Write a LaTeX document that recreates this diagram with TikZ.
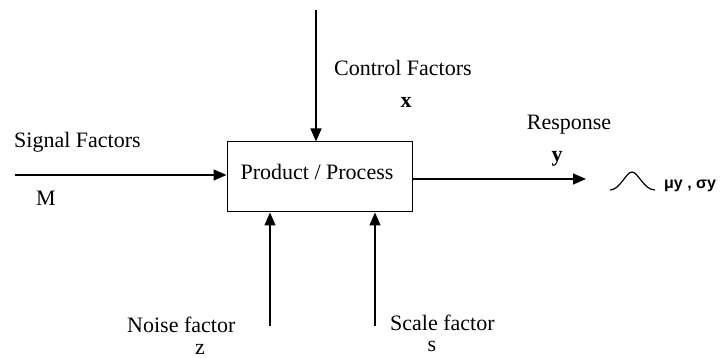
\documentclass[tikz,border=0pt]{standalone}
\usepackage{fontspec}
\setmainfont{Liberation Serif}
\newfontfamily\symfont{Liberation Sans}
\usetikzlibrary{arrows.meta}

\begin{document}
\begin{tikzpicture}[x=1pt,y=-1pt,
  arr/.style={line width=1.4pt,-{Triangle[length=13pt,width=11pt]}},
  lbl/.style={inner sep=0pt,font=\fontsize{22}{24}\selectfont}]
\useasboundingbox (0,0) rectangle (724,358);
% block
\node[draw,line width=1pt,minimum width=185pt,minimum height=70pt,inner sep=0pt] (proc) at (319.5,177) {};
\node[lbl] (ptext) at (317,172) {Product / Process};
% arrow ends
\coordinate (ctrl) at (316,10);
\coordinate (sig) at (15,175);
\coordinate (resp) at (586,179);
\coordinate (noise) at (270,326);
\coordinate (scale) at (375,326);
% arrows
\draw[arr] (ctrl) -- (ctrl |- proc.north);
\draw[arr] (sig) -- (sig -| proc.west);
\draw[arr] (resp -| proc.east) -- (resp);
\draw[arr] (noise) -- (noise |- proc.south);
\draw[arr] (scale) -- (scale |- proc.south);
% labels
\node[lbl,anchor=west] (ctext) at (334,68) {Control Factors};
\node[lbl] (cx) at (406,102) {\textbf{x}};
\node[lbl,anchor=west] (stext) at (14,142) {Signal Factors};
\node[lbl] (sm) at (46,198) {M};
\node[lbl] (rtext) at (569,125) {Response};
\node[lbl] (ry) at (557,159) {\textbf{y}};
\node[lbl,anchor=west] (ntext) at (127,325) {Noise factor};
\node[lbl] (nz) at (200,349) {z};
\node[lbl,anchor=west] (sctext) at (390,323) {Scale factor};
\node[lbl] (ss) at (432,346) {s};
% distribution
\draw[line width=1.2pt] (610,190) .. controls (620,190) and (626,172) .. (632,172)
  .. controls (638,172) and (644,190) .. (655,190);
\node[inner sep=0pt,anchor=west,font=\symfont\bfseries\fontsize{16}{18}\selectfont] (musig) at (664,186) {μy , σy};
\end{tikzpicture}
\end{document}
